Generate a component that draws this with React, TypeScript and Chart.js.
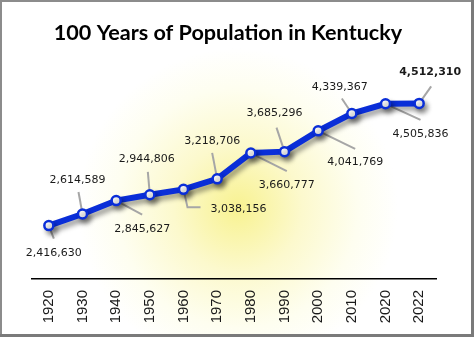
import React, { useEffect, useRef } from "react";
import { Chart, registerables } from "chart.js";

Chart.register(...registerables);

const title = "100 Years of Population in Kentucky";
const years = ["1920", "1930", "1940", "1950", "1960", "1970", "1980", "1990", "2000", "2010", "2020", "2022"];
const population = [2416630, 2614589, 2845627, 2944806, 3038156, 3218706, 3660777, 3685296, 4041769, 4339367, 4505836, 4512310];
const yMin = 1500000;
const yMax = 5000000;

// label placement (offset of label centre from its point) and leader polylines, relative to point
const labelOffsets: number[][] = [
  [5, 28], [-5, -34], [26, 29], [-3, -36], [55, 20], [-5, -38],
  [36, 32], [-10, -38], [37, 31], [-12, -26], [35, 30], [11, -31],
];
const leaderPaths: number[][][] = [
  [[0, 0], [5, 13]],
  [[-4, -22], [0, 0]],
  [[0, 0], [26, 14]],
  [[-2, -23], [0, 0]],
  [[0, 0], [4, 18], [17, 18]],
  [[-5, -26], [0, 0]],
  [[0, 0], [36, 18]],
  [[-8, -24], [0, 0]],
  [[0, 0], [37, 18]],
  [[-10, -15], [0, 0]],
  [[0, 0], [35, 16]],
  [[12, -17], [0, 0]],
];
const boldLabelIndex = 11;

const LINE_BLUE = "#0a2ed8";

const decorPlugin = {
  id: "decor",
  beforeDraw(chart: any) {
    const { ctx, width, height } = chart;
    ctx.save();
    ctx.fillStyle = "#ffffff";
    ctx.fillRect(0, 0, width, height);
    const g = ctx.createRadialGradient(238, 208, 0, 238, 208, 160);
    g.addColorStop(0, "rgba(248,242,145,1)");
    g.addColorStop(0.4, "rgba(252,249,205,1)");
    g.addColorStop(0.75, "rgba(254,254,240,1)");
    g.addColorStop(1, "rgba(255,255,255,1)");
    ctx.fillStyle = g;
    ctx.fillRect(0, 0, width, height);
    ctx.restore();
  },
  beforeDatasetsDraw(chart: any) {
    const { ctx } = chart;
    const meta = chart.getDatasetMeta(0);
    ctx.save();
    ctx.strokeStyle = "#a6a6a6";
    ctx.lineWidth = 2;
    meta.data.forEach((pt: any, i: number) => {
      const path = leaderPaths[i];
      if (!path) return;
      ctx.beginPath();
      path.forEach((p, j) => {
        const x = pt.x + p[0];
        const y = pt.y + p[1];
        if (j === 0) ctx.moveTo(x, y);
        else ctx.lineTo(x, y);
      });
      ctx.stroke();
    });
    ctx.restore();
    ctx.save();
    ctx.shadowColor = "rgba(0,0,0,0.38)";
    ctx.shadowBlur = 5;
    ctx.shadowOffsetX = 3;
    ctx.shadowOffsetY = 4;
  },
  afterDatasetsDraw(chart: any) {
    const { ctx } = chart;
    ctx.restore();
    const meta = chart.getDatasetMeta(0);
    const data = chart.data.datasets[0].data as number[];
    ctx.save();
    ctx.textAlign = "center";
    ctx.textBaseline = "middle";
    ctx.fillStyle = "#1a1a1a";
    meta.data.forEach((pt: any, i: number) => {
      const off = labelOffsets[i] || [0, -20];
      ctx.font = (i === boldLabelIndex ? "bold " : "") + "11px 'DejaVu Sans'";
      ctx.fillText(data[i].toLocaleString("en-US"), pt.x + off[0], pt.y + off[1]);
    });
    ctx.restore();
  },
  afterDraw(chart: any) {
    const { ctx, width, height } = chart;
    ctx.save();
    ctx.fillStyle = "#000000";
    ctx.font = "bold 21.6px Lato";
    ctx.textAlign = "center";
    ctx.textBaseline = "middle";
    ctx.fillText(title, 228, 33);
    ctx.fillStyle = "#8c8c8c";
    ctx.fillRect(0, 0, width, 2);
    ctx.fillRect(0, 0, 2, height);
    ctx.fillStyle = "#7a7a7a";
    ctx.fillRect(width - 3, 0, 3, height);
    ctx.fillRect(0, height - 3, width, 3);
    ctx.restore();
  },
};

export default function App() {
  const ref = useRef<HTMLCanvasElement | null>(null);
  useEffect(() => {
    if (!ref.current) return;
    const chart = new Chart(ref.current, {
      type: "line",
      data: {
        labels: years,
        datasets: [
          {
            data: population,
            borderColor: LINE_BLUE,
            borderWidth: 6,
            tension: 0,
            pointRadius: 4.5,
            pointBorderWidth: 2.5,
            pointBackgroundColor: "#ffffff",
            pointBorderColor: LINE_BLUE,
          },
        ],
      },
      options: {
        responsive: false,
        animation: false,
        layout: { padding: { left: 32, right: 38, top: 75, bottom: 0 } },
        plugins: { legend: { display: false }, tooltip: { enabled: false }, title: { display: false } },
        scales: {
          x: {
            offset: true,
            grid: { display: false, drawTicks: false },
            border: { display: true, color: "#000000", width: 1.5 },
            ticks: {
              minRotation: 90,
              maxRotation: 90,
              padding: 11,
              color: "#1a1a1a",
              font: { family: "'Liberation Sans'", size: 15 },
            },
            afterFit: (scale: any) => {
              scale.height = 58;
            },
          },
          y: { display: false, min: yMin, max: yMax },
        },
      },
      plugins: [decorPlugin],
    });
    return () => chart.destroy();
  }, []);
  return (
    <div style={{ position: "absolute", left: 0, top: 0, width: 474, height: 337 }}>
      <canvas ref={ref} width={474} height={337} style={{ display: "block" }} />
    </div>
  );
}
